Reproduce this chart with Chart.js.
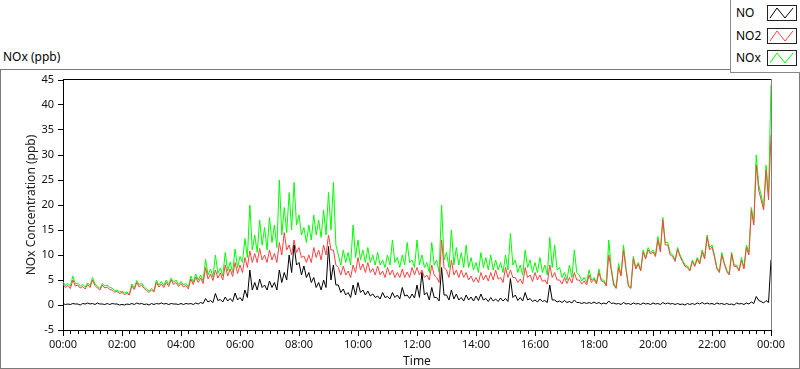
<!DOCTYPE html>
<html>
<head>
<meta charset="utf-8">
<script src="https://cdn.jsdelivr.net/npm/chart.js@4.4.1/dist/chart.umd.min.js"></script>
<style>
  body { margin: 0; width: 800px; height: 369px; position: relative; background: #fff; overflow: hidden; font-family: 'Noto Sans', sans-serif; }
  #title { position: absolute; left: 3px; top: 48px; font-size: 12px; color: #000; }
  #chart { position: absolute; left: 0; top: 69px; }
  #frame { position: absolute; left: 0; top: 69px; width: 800px; height: 300px; box-sizing: border-box; border: 1px solid #7a7a7a; pointer-events: none; }
  #legend { position: absolute; left: 730px; top: -1px; width: 71px; height: 74px; box-sizing: border-box; border: 1px solid #8a8a8a; background: #fff; }
  .item { position: absolute; left: 0; width: 70px; height: 16px; font-size: 12px; line-height: 16px; }
  .item span { position: absolute; left: 5px; top: 0; }
  .item svg { position: absolute; left: 36px; top: 0; }
</style>
</head>
<body>
<div id="title">NOx (ppb)</div>
<canvas id="chart" width="800" height="300"></canvas>
<div id="frame"></div>
<div id="legend"></div>
<script>
// 10-minute samples from 00:00 to 24:00 (peaks), plus the dip read between each pair
const hours = [];
for (let i = 0; i <= 144; i++) hours.push(i / 6);

const noValues = [
  0.3,0.2,0.3,0.2,0.3,0.4,0.3,0.4,0.2,0.3,0.3,0.2,0.1,0.2,0.3,0.4,0.3,0.2,0.3,0.3,
  0.4,0.3,0.3,0.2,0.3,0.3,0.3,0.4,0.5,1.3,0.9,2.3,1.1,1.6,1.3,2.4,
  1.5,3.0,7.0,4.5,5.2,4.0,4.8,4.5,7.0,6.5,10.0,12.0,8.5,7.8,6.5,5.5,4.5,5.0,11.7,8.0,
  4.0,3.2,2.5,4.0,4.5,3.0,2.8,2.2,1.8,2.5,1.7,2.5,2.0,3.5,2.0,2.2,
  4.0,6.5,2.5,3.5,1.5,7.5,2.0,3.0,2.2,1.5,2.0,1.6,1.8,2.2,1.3,1.5,1.2,1.4,1.3,5.3,
  2.0,1.5,2.5,1.3,1.0,1.2,0.9,4.0,1.0,0.8,0.9,0.7,1.0,0.5,0.5,0.5,
  0.6,0.5,0.4,0.8,0.4,0.3,0.5,0.3,0.4,0.3,0.4,0.3,0.4,0.3,0.5,0.4,0.3,0.3,0.2,0.3,
  0.3,0.4,0.5,0.4,0.3,0.4,0.3,0.3,0.2,0.4,0.3,0.4,0.6,1.7,0.7,0.9,9.0
];
const noLows = [
  0.1,0.1,0.2,0.0,0.2,0.2,0.1,0.2,0.1,0.1,0.2,0.0,0.0,0.1,0.1,0.2,0.1,0.0,0.1,0.2,
  0.2,0.1,0.2,0.1,0.1,0.2,0.1,0.2,0.3,0.6,0.5,0.9,0.6,0.8,0.7,1.0,
  0.8,1.5,3.0,3.0,3.5,3.0,3.5,3.0,4.5,5.0,6.5,8.0,6.0,5.5,4.5,3.5,3.0,3.5,5.0,4.0,
  2.5,2.0,1.5,2.0,2.5,2.0,1.8,1.5,1.2,1.5,1.2,1.5,1.2,1.8,1.3,1.4,
  1.5,2.0,1.0,1.5,0.8,2.0,1.0,1.2,1.0,0.8,1.0,0.8,0.9,1.0,0.7,0.8,0.7,0.8,0.7,1.5,
  0.9,0.8,1.0,0.7,0.6,0.7,0.5,1.0,0.6,0.5,0.5,0.4,0.5,0.3,0.3,0.3,
  0.3,0.2,0.2,0.3,0.2,0.1,0.2,0.1,0.2,0.1,0.2,0.1,0.2,0.1,0.2,0.2,0.1,0.1,0.0,0.1,
  0.1,0.2,0.2,0.2,0.1,0.2,0.1,0.1,0.0,0.2,0.1,0.2,0.3,0.9,0.4,0.5
];
const no2Values = [
  4.2,3.9,5.0,4.0,3.7,4.1,5.0,3.4,4.0,3.6,3.0,2.7,2.5,2.3,3.8,4.5,4.0,2.9,3.0,4.5,
  4.2,4.5,5.0,4.5,4.3,3.9,5.2,5.6,5.4,7.5,6.2,7.0,6.4,8.0,7.2,8.5,
  8.0,9.5,10.8,10.3,11.3,10.0,11.0,10.3,12.5,14.5,12.0,13.0,11.5,9.8,10.0,11.5,11.0,12.0,14.0,11.0,
  7.5,7.8,6.8,8.0,9.5,8.2,8.5,7.3,7.8,6.8,7.5,7.0,6.5,7.2,6.6,7.5,
  7.5,7.0,6.0,8.0,5.5,13.0,7.0,9.0,7.0,7.0,6.5,5.8,5.5,6.5,6.0,6.5,7.0,5.5,7.5,7.0,
  5.5,5.2,7.5,6.0,6.5,6.0,5.0,8.0,6.5,5.0,5.5,5.5,6.5,5.0,4.8,6.0,
  5.2,6.5,4.6,10.0,4.0,7.5,11.0,3.7,9.3,8.2,10.6,11.0,10.6,13.0,17.0,12.0,9.7,11.2,8.7,7.5,
  8.7,9.2,10.6,13.6,11.6,7.2,10.0,6.7,10.2,7.7,9.0,11.5,19.0,28.0,21.0,27.0,34.0
];
const no2Lows = [
  3.5,3.3,3.8,3.4,3.2,3.5,3.9,3.0,3.4,3.1,2.6,2.3,2.1,2.0,3.1,3.6,3.3,2.5,2.6,3.6,
  3.5,3.7,4.1,3.7,3.6,3.2,4.1,4.5,4.3,5.2,4.9,5.4,5.0,5.8,5.7,6.3,
  6.5,7.5,8.5,8.5,9.0,8.5,9.0,8.5,10.0,11.0,10.0,10.5,9.5,8.5,8.5,9.5,9.0,10.0,11.0,8.0,
  6.0,6.0,5.5,6.5,7.0,6.5,6.5,6.0,6.0,5.5,6.0,5.5,5.5,5.5,5.5,6.0,
  6.0,5.5,5.0,6.0,4.5,7.5,5.5,6.0,5.5,5.5,5.0,4.6,4.5,5.0,4.8,5.0,5.2,4.5,5.5,5.5,
  4.5,4.2,5.5,4.7,5.0,4.7,4.2,5.5,5.0,4.2,4.3,4.4,5.0,4.2,4.0,4.5,
  4.2,4.8,3.8,7.0,3.3,5.8,7.2,3.3,7.2,6.8,9.2,10.2,9.7,10.6,12.0,10.0,8.7,9.7,7.7,6.8,
  7.7,8.2,9.2,11.0,9.6,6.5,8.2,6.0,7.7,6.8,7.2,10.0,16.0,23.0,19.0,21.0
];
const noxValues = [
  4.6,4.3,5.8,4.4,4.1,4.4,5.5,3.8,4.3,4.0,3.4,3.0,2.8,2.6,4.2,4.9,4.4,3.2,3.3,5.0,
  4.7,5.0,5.4,5.0,4.7,4.3,5.8,6.2,6.0,9.1,7.2,10.0,7.4,10.5,8.6,11.2,
  9.7,13.3,20.0,14.0,17.0,15.5,17.5,16.0,25.0,19.5,22.5,24.5,18.0,15.5,16.0,18.0,17.0,19.0,22.5,24.5,
  10.0,11.0,10.5,16.0,13.0,11.0,11.5,10.0,10.5,9.0,10.0,13.0,9.5,10.0,12.5,9.0,
  13.0,10.0,8.5,12.5,9.0,20.0,10.5,15.0,11.5,10.5,12.0,9.5,8.5,10.5,9.5,10.0,9.0,8.5,10.0,14.3,
  9.0,8.0,11.0,9.0,8.5,9.5,8.0,13.5,12.0,7.5,6.5,8.0,11.0,6.0,5.5,7.0,
  5.5,7.2,5.0,13.0,4.5,8.3,12.0,4.0,9.7,8.5,11.0,11.5,11.0,13.7,17.5,12.5,10.0,11.5,9.0,7.8,
  9.0,9.5,11.0,14.0,12.0,7.5,10.5,7.0,10.5,8.0,9.5,12.0,19.5,30.0,22.0,28.0,44.0
];
const noxLows = [
  3.9,3.8,4.2,3.8,3.6,3.9,4.2,3.3,3.8,3.5,2.9,2.6,2.4,2.2,3.4,4.0,3.7,2.8,2.9,4.0,
  3.9,4.1,4.5,4.1,4.0,3.6,4.6,5.0,4.8,6.0,5.6,6.3,5.8,6.8,6.5,7.5,
  8.5,9.5,11.0,10.5,12.0,11.0,12.5,11.5,14.0,14.5,15.0,16.0,14.0,12.5,13.0,14.0,13.5,14.0,15.0,12.0,
  8.0,8.5,8.0,9.5,9.0,8.5,8.5,8.0,8.0,7.5,8.0,8.5,7.5,8.0,8.5,7.5,
  8.0,7.5,6.5,8.0,6.5,9.0,7.5,8.0,8.0,7.5,7.5,7.0,6.5,7.5,7.0,7.0,7.0,6.5,7.0,8.0,
  6.5,6.0,7.5,6.5,6.5,6.5,6.0,7.5,7.0,5.5,5.0,5.5,6.5,4.8,4.5,5.0,
  4.5,5.0,4.0,7.5,3.5,6.0,7.5,3.5,7.5,7.0,9.5,10.5,10.0,11.0,12.5,10.5,9.0,10.0,8.0,7.0,
  8.0,8.5,9.5,11.5,10.0,6.8,8.5,6.3,8.0,7.0,7.5,10.5,16.5,24.0,19.5,22.0
];

const seriesNames = ['NO', 'NO2', 'NOx'];
const seriesColors = ['#000000', '#ff4040', '#00ff00'];
const seriesValues = [noValues, no2Values, noxValues];
const seriesLows = [noLows, no2Lows, noxLows];

// peak at each 10-minute mark, dip halfway to the next one
function toPoints(peaks, lows) {
  const pts = [];
  hours.forEach((h, k) => {
    pts.push({ x: h, y: peaks[k] });
    if (k < lows.length) pts.push({ x: h + 1 / 12, y: lows[k] });
  });
  return pts;
}

// legend box like the LabVIEW plot legend
const legend = document.getElementById('legend');
seriesNames.forEach((name, i) => {
  const row = document.createElement('div');
  row.className = 'item';
  row.style.top = (5 + i * 22.5) + 'px';
  row.innerHTML = '<span>' + name + '</span>' +
    '<svg width="30" height="16"><rect x="0.5" y="0.5" width="29" height="15" fill="#fff" stroke="#222"/>' +
    '<polyline points="3,13 10,3 18,13 26,3" fill="none" stroke="' + seriesColors[i] + '" stroke-width="1"/></svg>';
  legend.appendChild(row);
});

const plotFrame = {
  id: 'plotFrame',
  afterDraw(chart) {
    const { ctx, chartArea: a } = chart;
    const x = chart.scales.x;
    ctx.save();
    ctx.lineWidth = 1;
    ctx.strokeStyle = '#000';
    ctx.beginPath();
    ctx.moveTo(a.left, a.top - 0.5);
    ctx.lineTo(a.right, a.top - 0.5);
    ctx.stroke();
    ctx.strokeStyle = '#808080';
    ctx.beginPath();
    ctx.moveTo(a.right + 0.5, a.top - 1);
    ctx.lineTo(a.right + 0.5, a.bottom);
    ctx.stroke();
    // minor ticks every 15 minutes
    ctx.strokeStyle = '#000';
    ctx.beginPath();
    for (let q = 0; q <= 96; q++) {
      if (q % 8 === 0) continue;
      const px = Math.round(x.getPixelForValue(q / 4)) + 0.5;
      ctx.moveTo(px, a.bottom);
      ctx.lineTo(px, a.bottom + 4);
    }
    ctx.stroke();
    ctx.restore();
  }
};

const tickFont = { family: "'Noto Sans', sans-serif", size: 11 };
const titleFont = { family: "'Noto Sans', sans-serif", size: 12 };

new Chart(document.getElementById('chart'), {
  type: 'line',
  data: {
    datasets: seriesNames.map((name, i) => ({
      label: name,
      data: toPoints(seriesValues[i], seriesLows[i]),
      borderColor: seriesColors[i],
      borderWidth: 1,
      pointRadius: 0,
      tension: 0,
      fill: false
    }))
  },
  options: {
    responsive: false,
    animation: false,
    events: [],
    layout: { padding: { left: 0, right: 29, top: 11, bottom: 0 } },
    plugins: { legend: { display: false }, tooltip: { enabled: false } },
    scales: {
      x: {
        type: 'linear',
        min: 0,
        max: 24,
        afterFit: s => { s.height = 39; },
        border: { color: '#000' },
        grid: { drawOnChartArea: false, tickLength: 6, color: '#000' },
        ticks: {
          stepSize: 2,
          maxRotation: 0,
          padding: 2,
          color: '#111',
          font: tickFont,
          callback: v => String(v % 24).padStart(2, '0') + ':00'
        },
        title: { display: true, text: 'Time', color: '#111', font: titleFont, padding: { top: 0, bottom: 0 } }
      },
      y: {
        min: -5,
        max: 45,
        afterFit: s => { s.width = 63; },
        border: { color: '#000' },
        grid: { drawOnChartArea: false, tickLength: 5, color: '#000' },
        ticks: { stepSize: 5, padding: 4, color: '#111', font: tickFont },
        title: { display: true, text: 'NOx Concentration (ppb)', color: '#222', font: titleFont, padding: { top: 24, bottom: 0 } }
      }
    }
  },
  plugins: [plotFrame]
});
</script>
</body>
</html>
